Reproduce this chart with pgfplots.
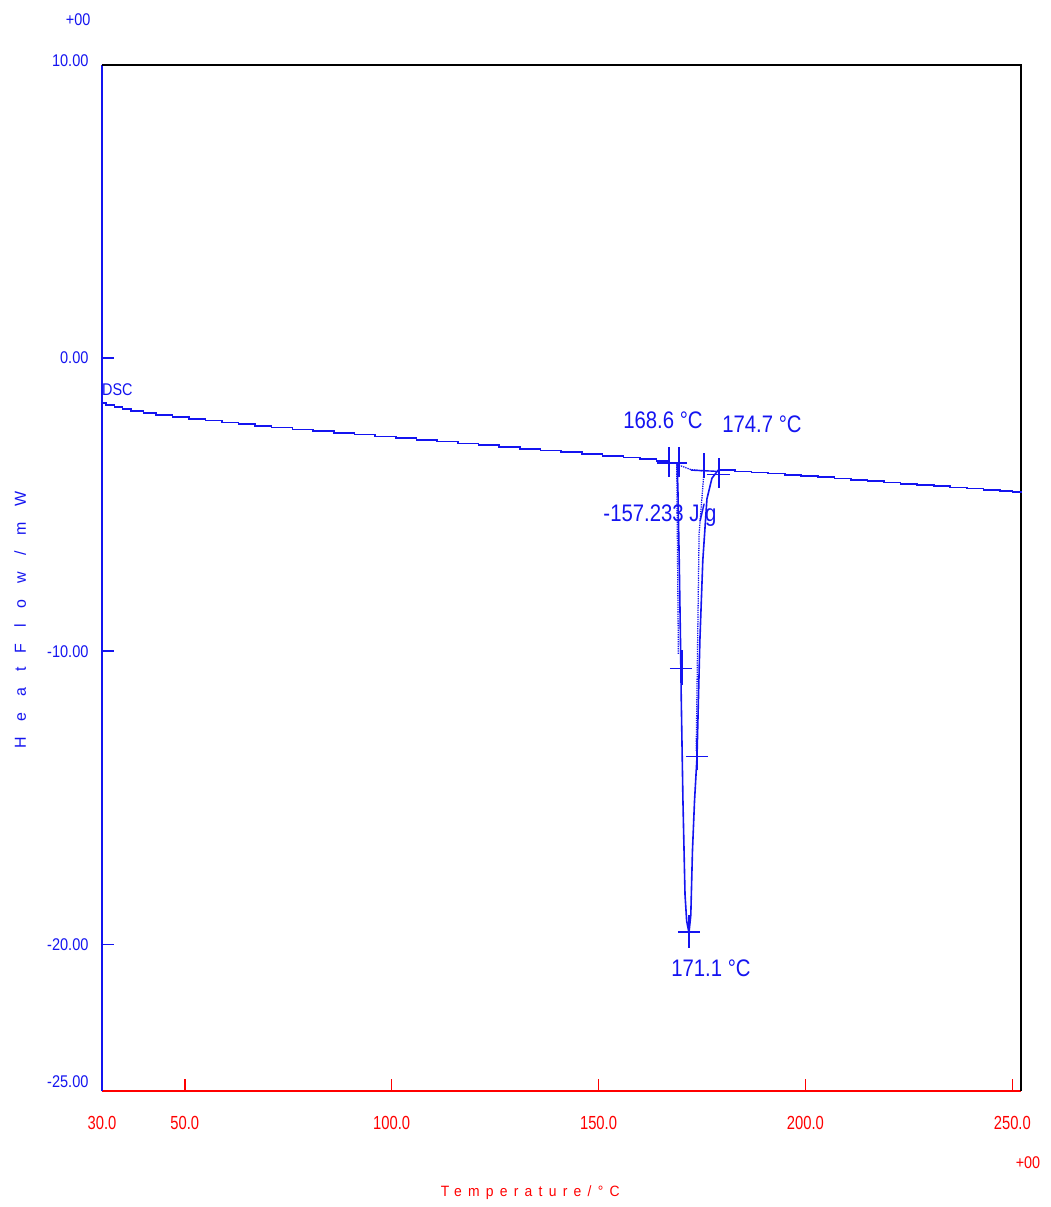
\documentclass[border=0pt]{standalone}
\usepackage{fontspec}
\usepackage{graphicx}
\setmainfont{Liberation Sans}
\newfontfamily\xlabfont[LetterSpace=45]{Liberation Sans}
\newfontfamily\ylabfont[LetterSpace=100]{Liberation Sans}
\usepackage{pgfplots}
\pgfplotsset{compat=1.18}
\definecolor{dscblue}{RGB}{20,20,240}
\definecolor{dscred}{RGB}{255,0,0}
\newcommand{\yl}[1]{\scalebox{0.86}[1]{#1}}
\newcommand{\xl}[1]{\scalebox{0.78}[1]{#1}}
\newcommand{\an}[1]{\scalebox{0.85}[1]{#1}}
\begin{document}
\begin{tikzpicture}
\begin{axis}[
  at={(0,0)}, anchor=south west,
  scale only axis, width=919bp, height=1026bp,
  xmin=30, xmax=252.1, ymin=-25, ymax=10,
  separate axis lines,
  x axis line style={dscred, line width=1.6bp},
  y axis line style={dscblue, line width=1.6bp},
  tick align=inside, tick pos=left,
  major tick length=12bp,
  xtick={30,50,100,150,200,250},
  xticklabels={\xl{30.0},\xl{50.0},\xl{100.0},\xl{150.0},\xl{200.0},\xl{250.0}},
  ytick={-25,-20,-10,0,10},
  yticklabels={\raisebox{9bp}[\height][\depth]{\yl{-25.00}},\yl{-20.00},\yl{-10.00},\yl{0.00},\raisebox{4bp}[\height][\depth]{\yl{10.00}}},
  x tick style={dscred, line width=1.6bp},
  y tick style={dscblue, line width=1.6bp},
  xticklabel style={font=\fontsize{19}{21}\selectfont, text=dscred, yshift=-22bp},
  yticklabel style={font=\fontsize{17}{19}\selectfont, text=dscblue, xshift=-10bp},
  clip=false,
]
% top and right frame lines
\draw[black, line width=1.6bp] (rel axis cs:0,1) -- (rel axis cs:1,1) -- (rel axis cs:1,0);

% baseline before peak (stepped)
\addplot[const plot, dscblue, line width=1.6bp] coordinates {
(30,-1.54) (31,-1.60) (33,-1.66) (35,-1.73) (37,-1.80) (40,-1.87) (43,-1.94)
(47,-2.00) (51,-2.07) (55,-2.13) (59,-2.19) (63,-2.25) (67,-2.31) (71,-2.37)
(76,-2.43) (81,-2.49) (86,-2.55) (91,-2.61) (96,-2.67) (101,-2.73) (106,-2.79)
(111,-2.85) (116,-2.91) (121,-2.97) (126,-3.03) (131,-3.09) (136,-3.15)
(141,-3.21) (146,-3.27) (151,-3.33) (156,-3.39) (160,-3.44) (164,-3.50)
(167,-3.56) (169,-3.60)
};
% melting peak
\addplot[dscblue, line width=1.6bp] coordinates {
(169.0,-3.60) (169.2,-4.6) (169.5,-6.9) (169.8,-9.6) (170.0,-11.7) (170.4,-15.1)
(170.9,-18.3) (171.3,-19.2) (171.85,-19.6) (172.3,-19.0) (172.7,-16.8)
(173.2,-15.1) (173.8,-13.6) (174.5,-9.6) (175.2,-6.9) (176.2,-4.8)
(177.4,-4.1) (178.9,-3.82)
};
% baseline after peak (stepped)
\addplot[const plot, dscblue, line width=1.6bp] coordinates {
(178.9,-3.82) (183,-3.86) (187,-3.90) (191,-3.94) (195,-3.98) (199,-4.02)
(203,-4.06) (207,-4.10) (211,-4.15) (215,-4.19) (219,-4.24) (223,-4.29)
(227,-4.33) (231,-4.37) (235,-4.41) (239,-4.45) (243,-4.49) (247,-4.53)
(250,-4.57) (252.1,-4.61)
};
% integration / tangent lines (dotted)
\addplot[dscblue, densely dotted, line width=1.3bp] coordinates {
(168.9,-3.62) (169.3,-10.1)
};
\addplot[dscblue, densely dotted, line width=1.3bp] coordinates {
(173.6,-13.4) (174.3,-6.0) (175.5,-3.85)
};
\addplot[dscblue, densely dotted, line width=1.3bp] coordinates {
(169.4,-3.65) (172.3,-3.80) (175.7,-3.85)
};
\addplot[dscblue, line width=1.4bp] coordinates {
(172.3,-3.82) (178.5,-3.86)
};
% crosshair markers
\addplot[dscblue, line width=1.4bp, unbounded coords=jump] coordinates {
(164.12,-3.58) (171.39,-3.58) (nan,nan)
(167.02,-3.04) (167.02,-4.06) (nan,nan)
(169.44,-3.04) (169.44,-4.06) (nan,nan)
(176.1,-3.96) (181.8,-3.96) (nan,nan)
(175.5,-3.24) (175.5,-4.09) (nan,nan)
(179.1,-3.41) (179.1,-4.44) (nan,nan)
(167.27,-10.58) (172.58,-10.58) (nan,nan)
(170.16,-9.96) (170.16,-11.16) (nan,nan)
(171.13,-13.58) (176.45,-13.58) (nan,nan)
(173.79,-12.96) (173.79,-14.06) (nan,nan)
(169.2,-19.58) (174.5,-19.58) (nan,nan)
(171.86,-19.0) (171.86,-20.13)
};
% annotations
\node[anchor=west, text=dscblue, font=\fontsize{17}{19}\selectfont, inner sep=0pt] at (axis cs:30,-1.09) {\an{DSC}};
\node[text=dscblue, font=\fontsize{24}{26}\selectfont] at (axis cs:165.57,-2.12) {\an{168.6 °C}};
\node[text=dscblue, font=\fontsize{24}{26}\selectfont] at (axis cs:189.5,-2.25) {\an{174.7 °C}};
\node[text=dscblue, font=\fontsize{24}{26}\selectfont] at (axis cs:164.85,-5.36) {\an{-157.233 J/g}};
\node[text=dscblue, font=\fontsize{24}{26}\selectfont] at (axis cs:177.17,-20.81) {\an{171.1 °C}};
% exponent markers and axis labels
\node[text=dscblue, font=\fontsize{17}{19}\selectfont] at (axis description cs:-0.026,1.044) {\an{+00}};
\node[text=dscred, font=\fontsize{17}{19}\selectfont] at (axis description cs:1.0076,-0.070) {\an{+00}};
\node[text=dscred, font=\xlabfont\fontsize{15}{17}\selectfont] at (axis description cs:0.466,-0.0994) {\scalebox{0.93}[1]{Temperature/°C}};
\node[text=dscblue, rotate=90, font=\ylabfont\fontsize{16}{18}\selectfont] at (axis description cs:-0.089,0.459) {Heat\hspace{14bp}Flow/mW};
\end{axis}
\pgfresetboundingbox
\path[use as bounding box] (-102bp,-116bp) rectangle (949bp,1091bp);
\end{tikzpicture}
\end{document}
